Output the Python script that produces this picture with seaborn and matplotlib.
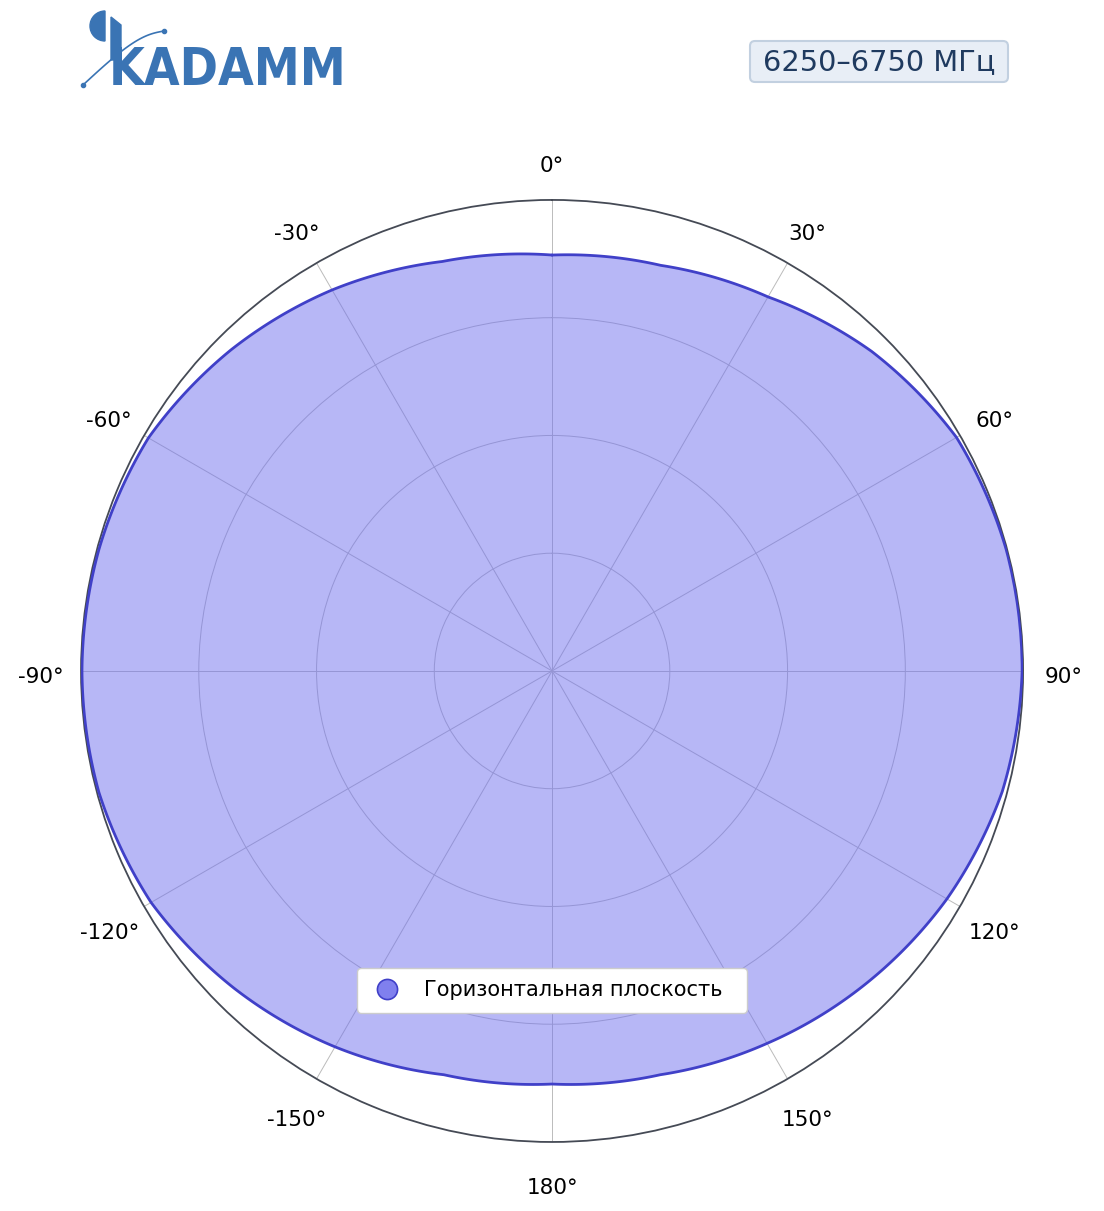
import numpy as np
import pandas as pd
import matplotlib
matplotlib.use('Agg')
import matplotlib.pyplot as plt
from matplotlib.patches import Wedge, FancyBboxPatch, Polygon
from matplotlib.transforms import ScaledTranslation
import seaborn as sns

# диаграмма направленности, горизонтальная плоскость (дБ, норм.)
углы = [0, 15, 30, 45, 60, 75, 90, 105, 120, 135, 150, 165,
        180, 195, 210, 225, 240, 255, 270, 285, 300, 315, 330, 345]
уровень_дб = [-2.34, -2.17, -1.66, -0.81, -0.17, -0.04, -0.04, -0.21, -0.64, -1.19, -1.74, -2.25,
              -2.46, -2.25, -1.57, -0.93, -0.34, -0.08, -0.04, -0.08, -0.21, -0.72, -1.32, -2.00]
подписи_углов = ['0°', '30°', '60°', '90°', '120°', '150°', '180°',
                 '-150°', '-120°', '-90°', '-60°', '-30°']
кольца = [-15, -10, -5]
диапазон = '6250–6750 МГц'
легенда = 'Горизонтальная плоскость'

sns.set_theme(style='white')
plt.rcParams['font.family'] = ['DejaVu Sans']

df = pd.DataFrame({'угол': углы + [360], 'дб': уровень_дб + [уровень_дб[0]]})
df['рад'] = np.deg2rad(df['угол'])

fig = plt.figure(figsize=(11.04, 12.11), dpi=100)
ax = fig.add_axes([0.0734, 0.057, 0.8533, 0.7779], projection='polar')
ax.set_theta_zero_location('N')
ax.set_theta_direction(-1)
ax.set_ylim(-20, 0)

заливка = ax.fill(df['рад'], df['дб'], color='#7070EE', alpha=0.5, zorder=1, lw=0)
for p in заливка:
    p.get_path()._interpolation_steps = 40
sns.lineplot(data=df, x='рад', y='дб', ax=ax, sort=False, color='#4040C8', lw=2.0, zorder=3)
for ln in ax.get_lines():
    ln.get_path()._interpolation_steps = 40

ax.set_thetagrids(np.arange(0, 360, 30), подписи_углов, fontsize=15.5, color='black')
ax.tick_params(axis='x', pad=16)
ax.set_rgrids(кольца, labels=[])
ax.grid(True, color='#bbbbbb', lw=0.7)
ax.set_axisbelow(True)
ax.spines['polar'].set_color('#454a55')
ax.spines['polar'].set_linewidth(1.3)
ax.set_xlabel('')
ax.set_ylabel('')

# подписи углов чуть ниже
сдвиг = ScaledTranslation(0, -6 / 100, fig.dpi_scale_trans)
for tick in ax.xaxis.get_major_ticks():
    tick.label1.set_transform(tick.label1.get_transform() + сдвиг)

# легенда
ручка = plt.Line2D([], [], marker='o', ls='', markersize=14.5, markerfacecolor='#8080EE',
                   markeredgecolor='#4040C8', markeredgewidth=1.2)
fig.legend([ручка], [легенда], loc='center', fontsize=15, labelcolor='black',
           bbox_to_anchor=(357 / 1104, 1 - 1014 / 1211, 390 / 1104, 48 / 1211), mode='expand',
           frameon=True, framealpha=1, edgecolor='#cccccc', borderpad=0.6, handlelength=1.7,
           handletextpad=0.9, fancybox=True, borderaxespad=0)

# шапка: логотип и диапазон частот
top = fig.add_axes([0, 0, 1, 1], zorder=10)
top.set_xlim(0, 1104)
top.set_ylim(1211, 0)
top.axis('off')
top.patch.set_alpha(0)

синий = '#3a74b4'
top.add_patch(Wedge((105, 26), 15, 90, 270, color=синий))
top.add_patch(Polygon([[111, 17], [121, 25], [121, 60], [111, 60]], color=синий))
top.text(109, 85, 'KADAMM', fontsize=37, fontweight='bold', color=синий,
         ha='left', va='baseline', fontstretch='condensed')
t = np.linspace(0, 1, 50)
дуга_x = 83 + 81 * t + 8 * np.sin(np.pi * t)
дуга_y = 85 - 54 * t - 14 * np.sin(np.pi * t)
top.plot(дуга_x, дуга_y, color=синий, lw=1.2)
top.plot([83, 164], [85, 31], 'o', color=синий, markersize=3)

top.add_patch(FancyBboxPatch((750, 41), 258, 41, boxstyle='round,pad=0,rounding_size=5',
                             facecolor='#e8eef6', edgecolor='#c2d0e0', lw=1.5))
top.text(879, 62, диапазон, fontsize=20.8, color='#1f3a5f', ha='center', va='center')

fig.savefig('out.png', dpi=100)
